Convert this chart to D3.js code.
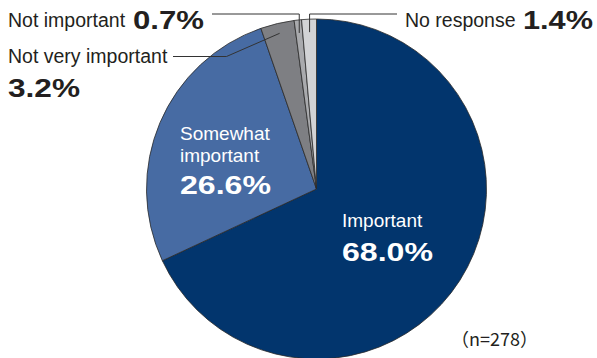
<!DOCTYPE html>
<html>
<head>
<meta charset="utf-8">
<script src="https://cdn.jsdelivr.net/npm/d3@7"></script>
<style>
  html, body { margin: 0; padding: 0; background: #fff; }
  svg { display: block; }
  text { font-family: "Liberation Sans", Arial, sans-serif; }
</style>
</head>
<body>
<svg id="chart" width="597" height="358"></svg>
<script>
// Survey answers, clockwise from 12 o'clock
const categories = ["Important", "Somewhat important", "Not very important", "Not important", "No response"];
const shares = [68.0, 26.6, 3.2, 0.7, 1.4];
const sampleSize = 278;

const sliceColors = ["#02356d", "#476ba3", "#7e7f83", "#a9aaad", "#d2d3d5"];

const W = 597, H = 358;
const cx = 316.5, cy = 189, R = 170;

const svg = d3.select("#chart");
const g = svg.append("g").attr("transform", `translate(${cx},${cy})`);

const pie = d3.pie().sort(null).value(d => d.v);
const data = categories.map((c, i) => ({ c, v: shares[i], i }));
const arcs = pie(data);

const arc = d3.arc().innerRadius(0).outerRadius(R);

g.selectAll("path.slice")
  .data(arcs)
  .join("path")
  .attr("class", "slice")
  .attr("d", arc)
  .attr("fill", d => sliceColors[d.data.i])
  .attr("stroke", "#2a2a2a")
  .attr("stroke-width", 0.8)
  .attr("stroke-linejoin", "round");

const fmt = v => v.toFixed(1) + "%";

// point inside a slice along its mid angle
function inner(a, r) {
  const m = (a.startAngle + a.endAngle) / 2;
  return [cx + r * Math.sin(m), cy - r * Math.cos(m)];
}

// labels inside the two large slices
function insideLabel(a, x, lines, y0, numY) {
  const t = svg.append("g").attr("fill", "#fff");
  lines.forEach((ln, k) => {
    t.append("text").attr("x", x).attr("y", y0 + k * 21.5)
      .attr("font-size", 19).text(ln);
  });
  t.append("text").attr("x", x).attr("y", numY)
    .attr("font-size", 26).attr("font-weight", "bold")
    .attr("textLength", 91).attr("lengthAdjust", "spacingAndGlyphs")
    .text(fmt(a.data.v));
}
insideLabel(arcs[0], 342, ["Important"], 227, 261);
insideLabel(arcs[1], 180, ["Somewhat", "important"], 140, 194);

// outside labels with leader lines
const lead = svg.append("g").attr("fill", "none").attr("stroke", "#333").attr("stroke-width", 1);
const txt = svg.append("g").attr("fill", "#231f20");

// Not important
{
  const a = arcs[3];
  const p = inner(a, 157);
  lead.append("polyline").attr("points", `212,14 ${p[0]},14 ${p[0]},${p[1]}`);
  txt.append("text").attr("x", 8).attr("y", 27).attr("font-size", 19.5).text(a.data.c);
  txt.append("text").attr("x", 133).attr("y", 28.5).attr("font-size", 26).attr("font-weight", "bold")
    .attr("textLength", 71).attr("lengthAdjust", "spacingAndGlyphs").text(fmt(a.data.v));
}
// No response
{
  const a = arcs[4];
  const p = inner(a, 157);
  lead.append("polyline").attr("points", `397,14 ${p[0]},14 ${p[0]},${p[1]}`);
  txt.append("text").attr("x", 405).attr("y", 27).attr("font-size", 19.5).text(a.data.c);
  txt.append("text").attr("x", 523).attr("y", 28.5).attr("font-size", 26).attr("font-weight", "bold")
    .attr("textLength", 70).attr("lengthAdjust", "spacingAndGlyphs").text(fmt(a.data.v));
}
// Not very important
{
  const a = arcs[2];
  const p = inner(a, 160);
  lead.append("polyline").attr("points", `173,56.5 226.5,56.5 ${p[0]},${p[1]}`);
  txt.append("text").attr("x", 8).attr("y", 63).attr("font-size", 19.5).text(a.data.c);
  txt.append("text").attr("x", 8).attr("y", 97).attr("font-size", 26).attr("font-weight", "bold")
    .attr("textLength", 72).attr("lengthAdjust", "spacingAndGlyphs").text(fmt(a.data.v));
}

// sample size note
svg.append("text").attr("x", 451).attr("y", 346)
  .attr("font-size", 18).attr("fill", "#231f20")
  .style("font-family", '"Noto Sans CJK JP", sans-serif')
  .text(`（n=${sampleSize}）`);
</script>
</body>
</html>
